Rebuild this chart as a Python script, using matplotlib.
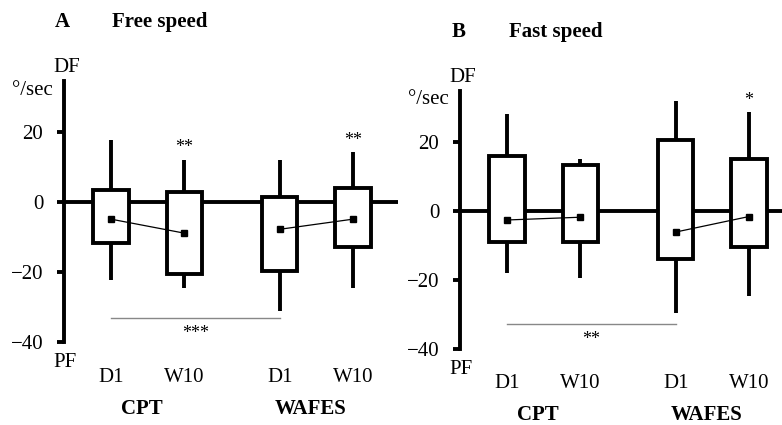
import numpy as np
import matplotlib
matplotlib.use("Agg")
import matplotlib.pyplot as plt

plt.rcParams['font.family'] = 'serif'
plt.rcParams['font.serif'] = ['Liberation Serif', 'Times New Roman', 'DejaVu Serif']

# categories
groups = ["CPT", "WAFES"]
sessions = ["D1", "W10", "D1", "W10"]
yticks = [-40, -20, 0, 20]

# panel A: free speed (deg/sec)
high_a = [17.8, 12.1, 12.1, 14.2]
q3_a = [3.3, 2.8, 1.5, 4.0]
mean_a = [-4.9, -8.9, -7.8, -4.9]
q1_a = [-11.6, -20.5, -19.8, -12.9]
low_a = [-22.2, -24.5, -31.1, -24.5]
stars_a = ["", "**", "", "**"]
group_star_a = "***"

# panel B: fast speed (deg/sec)
high_b = [28.1, 15.0, 31.9, 28.6]
q3_b = [15.9, 13.2, 20.6, 15.0]
mean_b = [-2.6, -1.8, -6.1, -1.6]
q1_b = [-9.0, -9.0, -13.9, -10.3]
low_b = [-17.9, -19.4, -29.5, -24.5]
stars_b = ["", "", "", "*"]
group_star_b = "**"

pos = np.array([1.0, 2.0, 3.3, 4.3])
W, H = 782, 425
FS = 15

fig = plt.figure(figsize=(7.82, 4.25), dpi=100)


def panel(rect, xmax, high, q3, mean, q1, low, stars, gstar, sig_y, letter, title, title_y, top):
    ax = fig.add_axes(rect)
    ax.set_xlim(0.359, xmax)
    ax.set_ylim(-50, 45)
    for s in ["top", "right", "bottom"]:
        ax.spines[s].set_visible(False)
    ax.spines["left"].set_linewidth(2.8)
    ax.spines["left"].set_bounds(-40, top)
    ax.set_yticks(yticks)
    ax.tick_params(axis="y", direction="out", length=5, width=2.8, pad=10, labelsize=FS)
    ax.set_xticks([])
    ax.patch.set_alpha(0)

    ax.axhline(0, color="black", lw=2.8, zorder=1)
    ax.vlines(pos, low, high, color="black", lw=2.8, zorder=2)
    ax.bar(pos, np.array(q3) - np.array(q1), bottom=q1, width=0.48,
           facecolor="white", edgecolor="black", linewidth=2.8, zorder=3)
    for i in (0, 2):
        ax.plot(pos[i:i + 2], mean[i:i + 2], color="black", lw=0.9,
                marker="s", ms=4, zorder=4)
    for x, h, s in zip(pos, high, stars):
        if s:
            ax.text(x, h + 1.0, s, ha="center", va="bottom", fontsize=13)

    ax.plot([pos[0], pos[2]], [sig_y, sig_y], color="#888888", lw=1.0, clip_on=False)
    ax.text((pos[0] + pos[2]) / 2, sig_y - 2.0, gstar, ha="center", va="top", fontsize=13)

    ax.text(0.4, top + 4, "DF", ha="center", va="center", fontsize=FS)
    ax.text(0.37, -45.8, "PF", ha="center", va="center", fontsize=FS)
    ax.text(-0.07, top - 2.5, "°/sec", ha="center", va="center", fontsize=FS)

    for x, lab in zip(pos, sessions):
        ax.text(x, -50, lab, ha="center", va="center", fontsize=FS, clip_on=False)
    for k, g in enumerate(groups):
        gx = (pos[2 * k] + pos[2 * k + 1]) / 2 - 0.08
        ax.text(gx, -59, g, ha="center", va="center", fontsize=FS,
                fontweight="bold", clip_on=False)

    ax.text(0.34, title_y, letter, ha="center", va="center", fontsize=FS, fontweight="bold")
    ax.text(1.66, title_y, title, ha="center", va="center", fontsize=FS, fontweight="bold")
    return ax


panel([64 / W, 0.1129, 334 / W, 0.7824], 4.914, high_a, q3_a, mean_a, q1_a, low_a,
      stars_a, group_star_a, -33.1, "A", "Free speed", 51.4, 34.5)
panel([460 / W, 0.0976, 322 / W, 0.7712], 4.75, high_b, q3_b, mean_b, q1_b, low_b,
      stars_b, group_star_b, -32.8, "B", "Fast speed", 52.0, 34.8)

fig.savefig("out.png", dpi=100)
